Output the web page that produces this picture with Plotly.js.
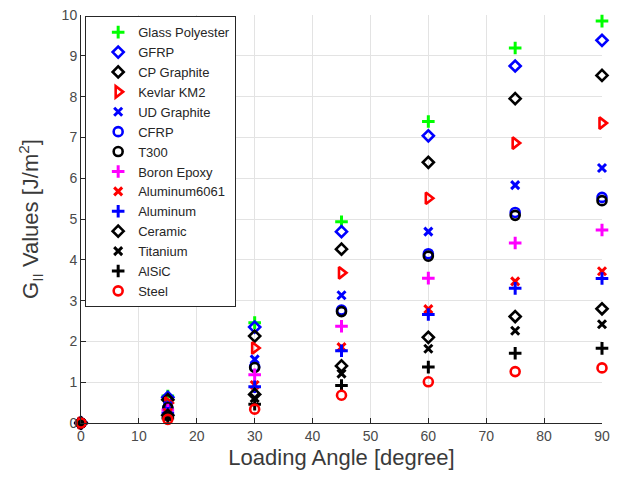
<!DOCTYPE html>
<html><head><meta charset="utf-8">
<script src="https://cdn.plot.ly/plotly-3.0.1.min.js"></script>
<style>html,body{margin:0;padding:0;background:#fff}</style>
</head><body>
<div id="chart" style="width:619px;height:483px"></div>
<script>
const angles = [0, 15, 30, 45, 60, 75, 90];
const names = ["Glass Polyester","GFRP","CP Graphite","Kevlar KM2","UD Graphite","CFRP","T300","Boron Epoxy","Aluminum6061","Aluminum","Ceramic","Titanium","AlSiC","Steel"];
const glassPolyester = [0, 0.66, 2.46, 4.93, 7.39, 9.19, 9.85];
const gfrp          = [0, 0.63, 2.35, 4.69, 7.04, 8.75, 9.38];
const cpGraphite    = [0, 0.57, 2.13, 4.26, 6.39, 7.95, 8.52];
const kevlar        = [0, 0.49, 1.84, 3.68, 5.51, 6.86, 7.35];
const udGraphite    = [0, 0.42, 1.56, 3.13, 4.69, 5.83, 6.25];
const cfrp          = [0, 0.37, 1.38, 2.77, 4.15, 5.16, 5.53];
const t300          = [0, 0.37, 1.36, 2.73, 4.09, 5.09, 5.45];
const boronEpoxy    = [0, 0.32, 1.18, 2.37, 3.55, 4.41, 4.73];
const aluminum6061  = [0, 0.25, 0.93, 1.86, 2.79, 3.47, 3.72];
const aluminum      = [0, 0.24, 0.89, 1.77, 2.66, 3.30, 3.54];
const ceramic       = [0, 0.19, 0.70, 1.40, 2.10, 2.61, 2.80];
const titanium      = [0, 0.16, 0.61, 1.21, 1.82, 2.26, 2.42];
const alsic         = [0, 0.12, 0.46, 0.92, 1.37, 1.71, 1.83];
const steel         = [0, 0.09, 0.34, 0.68, 1.01, 1.26, 1.35];
const series = [glassPolyester,gfrp,cpGraphite,kevlar,udGraphite,cfrp,t300,boronEpoxy,aluminum6061,aluminum,ceramic,titanium,alsic,steel];
const colors = ["#00ff00","#0000ff","#000000","#ff0000","#0000ff","#0000ff","#000000","#ff00ff","#ff0000","#0000ff","#000000","#000000","#000000","#ff0000"];
const symbols = ["cross-thin","diamond-open","diamond-open","triangle-right-open","x-thin","circle-open","circle-open","cross-thin","x-thin","cross-thin","diamond-open","x-thin","cross-thin","circle-open"];

const sizeFor = s => s.startsWith('cross') ? 9 : s.startsWith('x') ? 8 : s.startsWith('diamond') ? 8.5 : s.startsWith('triangle') ? 10 : 9;
const traces = series.map((ys,i)=>{
  const s = symbols[i];
  const thin = s.endsWith('-thin');
  return {
    x: angles, y: ys, name: names[i], type:'scatter', mode:'markers',
    marker:{symbol:s, color:colors[i], size: sizeFor(s),
      line:{color:colors[i], width: thin ? 3 : 2.6}},
    cliponaxis:false
  };
});

const layout = {
  width:619, height:483,
  margin:{l:81, r:17, t:15, b:60},
  paper_bgcolor:'#fff', plot_bgcolor:'#fff',
  font:{family:'Liberation Sans, Arial, sans-serif', color:'#262626'},
  showlegend:true,
  legend:{x:0.008, y:0.997, xanchor:'left', yanchor:'top', bgcolor:'#fff', bordercolor:'#262626', borderwidth:1,
    font:{size:13, color:'#262626'}, tracegroupgap:0, itemwidth:30, indentation:12,
    entrywidth:125, entrywidthmode:'pixels'},
  xaxis:{range:[0,90], tickvals:[0,10,20,30,40,50,60,70,80,90], showgrid:true, gridcolor:'#e3e3e3', gridwidth:1,
    zeroline:false, showline:true, linecolor:'#262626', linewidth:1, ticks:'inside', ticklen:5, tickcolor:'#262626',
    tickfont:{size:14, color:'#4a4a4a'}, title:{text:'Loading Angle [degree]', font:{size:22, color:'#3a3a3a'}, standoff:6}},
  yaxis:{range:[0,10], tickvals:[0,1,2,3,4,5,6,7,8,9,10], showgrid:true, gridcolor:'#e3e3e3', gridwidth:1,
    zeroline:false, showline:true, linecolor:'#262626', linewidth:1, ticks:'inside', ticklen:5, tickcolor:'#262626',
    tickfont:{size:14, color:'#4a4a4a'}, title:{text:'G<sub>II</sub> Values [J/m<sup>2</sup>]', font:{size:22, color:'#3a3a3a'}, standoff:16}}
};
Plotly.newPlot('chart', traces, layout, {displayModeBar:false, staticPlot:true});
</script>
</body></html>
